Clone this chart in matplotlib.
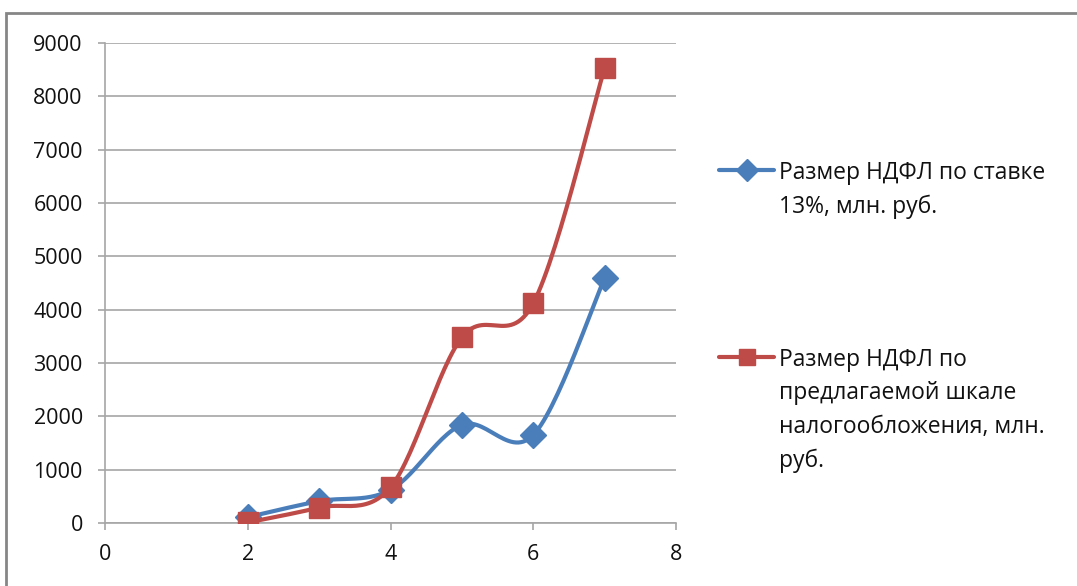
import numpy as np
import matplotlib
matplotlib.use("Agg")
import matplotlib.pyplot as plt
from matplotlib.lines import Line2D
from matplotlib.patches import Rectangle

plt.rcParams['font.family'] = ['Open Sans', 'DejaVu Sans']

x_vals = [2, 3, 4, 5, 6, 7]
ndfl_13 = [110, 410, 620, 1840, 1650, 4590]
ndfl_scale = [10, 290, 670, 3480, 4120, 8530]
label_13 = "Размер НДФЛ по ставке\n13%, млн. руб."
label_scale = "Размер НДФЛ по\nпредлагаемой шкале\nналогообложения, млн.\nруб."
x_ticks = [0, 2, 4, 6, 8]
y_ticks = [0, 1000, 2000, 3000, 4000, 5000, 6000, 7000, 8000, 9000]

blue = '#4A7EBB'
red = '#BE4B48'
W, H = 1077, 586


def smooth(xs, ys, n=30):
    xs = np.asarray(xs, float)
    ys = np.asarray(ys, float)
    P = np.column_stack([xs, ys])
    Pp = np.vstack([P[0], P, P[-1]])
    out = []
    for i in range(1, len(Pp) - 2):
        p0, p1, p2, p3 = Pp[i - 1], Pp[i], Pp[i + 1], Pp[i + 2]
        c1 = p1 + (p2 - p0) / 6.0
        c2 = p2 - (p3 - p1) / 6.0
        t = np.linspace(0, 1, n)[:, None]
        seg = ((1 - t) ** 3) * p1 + 3 * ((1 - t) ** 2) * t * c1 + 3 * (1 - t) * t ** 2 * c2 + t ** 3 * p2
        out.append(seg if i == 1 else seg[1:])
    out = np.vstack(out)
    return out[:, 0], out[:, 1]


fig = plt.figure(figsize=(W / 100, H / 100), dpi=100)
ax = fig.add_axes([105 / W, 1 - 523 / H, (676 - 105) / W, (523 - 43) / H])

sx, sy = smooth(x_vals, ndfl_13)
ax.plot(sx, sy, color=blue, lw=3, zorder=3, solid_capstyle='round')
ax.plot(x_vals, ndfl_13, linestyle='none', marker='D', ms=13, color=blue, zorder=4)
sx, sy = smooth(x_vals, ndfl_scale)
ax.plot(sx, sy, color=red, lw=3, zorder=5, solid_capstyle='round')
ax.plot(x_vals, ndfl_scale, linestyle='none', marker='s', ms=15, color=red, zorder=6)

ax.set_xlim(0, 8)
ax.set_ylim(0, 9000)
ax.set_xticks(x_ticks)
ax.set_yticks(y_ticks)
ax.yaxis.grid(True, color='#A6A6A6', lw=1.2)
ax.set_axisbelow(True)
for s in ['top', 'right']:
    ax.spines[s].set_visible(False)
for s in ['left', 'bottom']:
    ax.spines[s].set_color('#A6A6A6')
    ax.spines[s].set_linewidth(1.2)
ax.tick_params(axis='both', direction='out', length=5, width=1.2, color='#A6A6A6',
               labelsize=15.5, labelcolor='#111111')
ax.tick_params(axis='x', pad=10)
ax.tick_params(axis='y', pad=11)

# legend drawn in figure pixel coordinates
def legend_entry(y_first, label, color, marker, ms):
    fig.add_artist(Line2D([719 / W, 774 / W], [1 - y_first / H] * 2, color=color, lw=3,
                          transform=fig.transFigure, solid_capstyle='round'))
    fig.add_artist(Line2D([746.5 / W], [1 - y_first / H], color=color, marker=marker,
                          ms=ms, linestyle='none', transform=fig.transFigure))
    fig.text(779 / W, 1 - (y_first - 9) / H, label, fontsize=16.5, color='#111111',
             ha='left', va='top', linespacing=1.52)

legend_entry(170, label_13, blue, 'D', 11)
legend_entry(357, label_scale, red, 's', 12)

fig.patches.append(Rectangle((6 / W, -0.05), 1.2, 1 - 13 / H + 0.05,
                             transform=fig.transFigure, fill=False,
                             edgecolor='#868686', lw=2))

fig.savefig('out.png', dpi=100)
